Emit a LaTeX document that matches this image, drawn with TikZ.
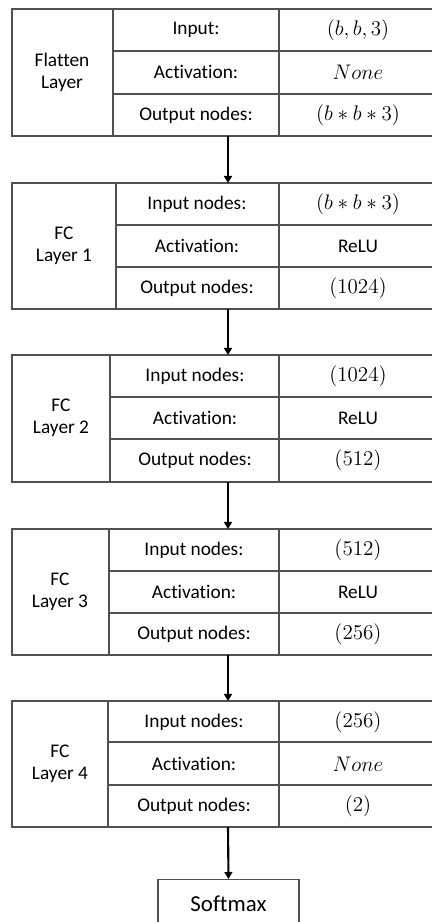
\documentclass[tikz,border=0pt]{standalone}
\usepackage[no-math]{fontspec}
\setmainfont{Carlito}[Ligatures=NoCommon]
\usetikzlibrary{arrows.meta}

\definecolor{tblline}{RGB}{80,80,80}

\tikzset{
  cell/.style={font=\fontsize{11}{12.5}\selectfont, align=center},
  valcell/.style={font=\fontsize{12.5}{14}\selectfont, align=center},
  flow/.style={-{Triangle[length=4pt,width=4.5pt]}, line width=1.2pt},
}

\begin{document}
\begin{tikzpicture}[x=0.02cm, y=-0.02cm, line width=0.6pt]
        \useasboundingbox (0,0) rectangle (432,922);
        % flatten layer
        \draw[tblline] (12,9) rectangle (440,136);
        \draw[tblline] (113,51) -- (440,51) (113,94) -- (440,94);
        \draw[tblline] (113,9) -- (113,136) (279,9) -- (279,136);
        \node[cell] (flat) at (62,72) {Flatten\\Layer};
        \node[cell] (flatin) at (196,30) {Input:};
        \node[cell] (flatact) at (196,72) {Activation:};
        \node[cell] (flatout) at (196,115) {Output nodes:};
        \node[valcell] (flatinv) at (358,30) {$(b,b,3)$};
        \node[valcell] (flatactv) at (358,72) {$None$};
        \node[valcell] (flatoutv) at (358,115) {$(b*b*3)$};
        % fc layer 1
        \draw[tblline] (12,183) rectangle (440,309);
        \draw[tblline] (116,225) -- (440,225) (116,267) -- (440,267);
        \draw[tblline] (116,183) -- (116,309) (279,183) -- (279,309);
        \node[cell] (fca) at (64,246) {FC\\Layer 1};
        \node[cell] (fcain) at (197,204) {Input nodes:};
        \node[cell] (fcaact) at (197,246) {Activation:};
        \node[cell] (fcaout) at (197,288) {Output nodes:};
        \node[valcell] (fcainv) at (358,204) {$(b*b*3)$};
        \node[cell] (fcaactv) at (358,246) {ReLU};
        \node[valcell] (fcaoutv) at (358,288) {$(1024)$};
        % fc layer 2
        \draw[tblline] (12,355) rectangle (440,482);
        \draw[tblline] (110,397) -- (440,397) (110,439) -- (440,439);
        \draw[tblline] (110,355) -- (110,482) (279,355) -- (279,482);
        \node[cell] (fcb) at (61,418) {FC\\Layer 2};
        \node[cell] (fcbin) at (195,376) {Input nodes:};
        \node[cell] (fcbact) at (195,418) {Activation:};
        \node[cell] (fcbout) at (195,460) {Output nodes:};
        \node[valcell] (fcbinv) at (358,376) {$(1024)$};
        \node[cell] (fcbactv) at (358,418) {ReLU};
        \node[valcell] (fcboutv) at (358,460) {$(512)$};
        % fc layer 3
        \draw[tblline] (12,529) rectangle (440,655);
        \draw[tblline] (109,571) -- (440,571) (109,613) -- (440,613);
        \draw[tblline] (109,529) -- (109,655) (279,529) -- (279,655);
        \node[cell] (fcc) at (60,592) {FC\\Layer 3};
        \node[cell] (fccin) at (194,550) {Input nodes:};
        \node[cell] (fccact) at (194,592) {Activation:};
        \node[cell] (fccout) at (194,634) {Output nodes:};
        \node[valcell] (fccinv) at (358,550) {$(512)$};
        \node[cell] (fccactv) at (358,592) {ReLU};
        \node[valcell] (fccoutv) at (358,634) {$(256)$};
        % fc layer 4
        \draw[tblline] (12,701) rectangle (440,827);
        \draw[tblline] (108,742) -- (440,742) (108,785) -- (440,785);
        \draw[tblline] (108,701) -- (108,827) (279,701) -- (279,827);
        \node[cell] (fcd) at (60,764) {FC\\Layer 4};
        \node[cell] (fcdin) at (194,722) {Input nodes:};
        \node[cell] (fcdact) at (194,764) {Activation:};
        \node[cell] (fcdout) at (194,806) {Output nodes:};
        \node[valcell] (fcdinv) at (358,722) {$(256)$};
        \node[valcell] (fcdactv) at (358,764) {$None$};
        \node[valcell] (fcdoutv) at (358,806) {$(2)$};
        % softmax
        \node[cell, font=\fontsize{13}{15}\selectfont, draw=tblline, anchor=north, minimum width=2.82cm, minimum height=0.96cm] (soft) at (228.5,879) {Softmax};
        % arrows
        \coordinate (flatS) at (228,136);
        \coordinate (fcaN) at (228,183);
        \coordinate (fcaS) at (228,309);
        \coordinate (fcbN) at (228,355);
        \coordinate (fcbS) at (228,482);
        \coordinate (fccN) at (228,529);
        \coordinate (fccS) at (228,655);
        \coordinate (fcdN) at (228,701);
        \coordinate (fcdS) at (228,827);
        \draw[flow] (flatS) -- (fcaN);
        \draw[flow] (fcaS) -- (fcbN);
        \draw[flow] (fcbS) -- (fccN);
        \draw[flow] (fccS) -- (fcdN);
        \draw[flow] (fcdS) -- (soft.north);
      \end{tikzpicture}
\end{document}
